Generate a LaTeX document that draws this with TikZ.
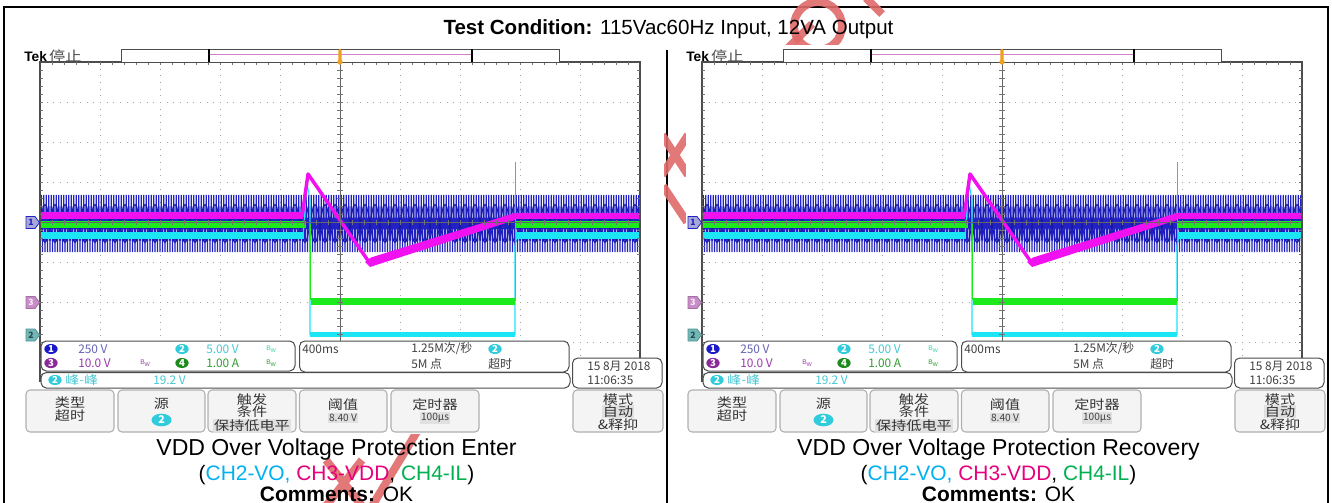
\documentclass[tikz,border=0pt]{standalone}
\usepackage{fontspec}
\usepackage{graphicx}
\setmainfont{Liberation Sans}
\newfontfamily\cjk{Noto Sans CJK SC}
\usetikzlibrary{shapes.geometric}

% trace colours
\definecolor{chone}{HTML}{2222C4}
\definecolor{chonedk}{HTML}{1818A8}
\definecolor{chtwo}{HTML}{1CE6F6}
\definecolor{chthree}{HTML}{F010F0}
\definecolor{chfour}{HTML}{1CEA1C}
% readout colours
\definecolor{txone}{HTML}{6464B4}
\definecolor{txtwo}{HTML}{44C8D4}
\definecolor{txthree}{HTML}{9A3AAA}
\definecolor{txfour}{HTML}{2E9E2E}
\definecolor{dotone}{HTML}{1A1AC8}
\definecolor{dottwo}{HTML}{30CCDC}
\definecolor{dotthree}{HTML}{8A2A9A}
\definecolor{dotfour}{HTML}{1E8A1E}
\definecolor{mkone}{HTML}{A8A8D8}
\definecolor{mkthree}{HTML}{C88CC8}
\definecolor{mktwo}{HTML}{70B8B8}
% screen furniture
\definecolor{gridc}{HTML}{A0A0A0}
\definecolor{btnfill}{HTML}{F4F4F4}
\definecolor{btnedge}{HTML}{B0B0B0}
\definecolor{hilite}{HTML}{E0E0E0}
\definecolor{trigc}{HTML}{F0A020}
\definecolor{recpink}{HTML}{D080C8}
% caption colours
\definecolor{capcyan}{HTML}{00B0F0}
\definecolor{capmag}{HTML}{E6007E}
\definecolor{capgreen}{HTML}{00B050}
\definecolor{wmred}{HTML}{E06A6A}

\newcommand{\wx}[1]{\scalebox{1.18}[1]{#1}}
\newcommand{\bwmark}{{\fontsize{5}{5}\selectfont B\raisebox{-1.3pt}{\fontsize{4.2}{4}\selectfont W}}}

\tikzset{
  frame/.style={line width=1.6pt, black},
  grat/.style={draw=gridc, line width=0.7pt, dash pattern=on 0.7pt off 4.3pt},
  axisline/.style={draw=black!60, line width=0.55pt},
  tickmark/.style={draw=black!55, line width=0.5pt},
  readbox/.style={draw=black!70, line width=0.75pt, fill=white, rounded corners=4pt},
  softkey/.style={draw=btnedge, line width=0.8pt, fill=btnfill, rounded corners=3pt},
  rtxt/.style={font=\cjk\fontsize{8.9}{9}\selectfont, inner sep=0pt, anchor=west, text=black!75},
  ktxt/.style={font=\cjk\fontsize{9.6}{10}\selectfont, inner sep=0pt, text=black!80},
  kval/.style={font=\cjk\fontsize{7.6}{8}\selectfont, inner sep=0.8pt, fill=hilite, text=black!75},
  badge/.style={ellipse, fill=#1, text=white, inner sep=0pt, minimum width=10pt,
    minimum height=7.5pt, font=\cjk\bfseries\fontsize{7.2}{7}\selectfont},
  bigbadge/.style={badge=#1, minimum width=15pt, minimum height=9.5pt,
    font=\cjk\bfseries\fontsize{8}{8}\selectfont},
  bwtxt/.style={inner sep=0pt, anchor=west},
  chmarker/.style={line width=0.6pt},
  mktxt/.style={font=\cjk\bfseries\fontsize{6.5}{7}\selectfont, inner sep=0pt},
  captxt/.style={inner sep=0pt, anchor=base},
  wmstroke/.style={draw=wmred, line width=6pt, opacity=0.9},
}

% one oscilloscope screen, drawn in pixel units from its own origin
\newcommand{\scopescreen}{%
  \fill[white] (24,45) rectangle (664,434);
  % dotted graticule
  \foreach \gx in {100,160,...,580} \draw[grat] (\gx,62) -- (\gx,382);
  \foreach \gy in {102,142,...,342} \draw[grat] (40,\gy) -- (640,\gy);
  % CH1 mains voltage (dense 60 Hz trace)
  \draw[chone, line width=0.75pt] plot[domain=0:480, samples=481]
    ({40+1.25*\x},{223.5+28.5*(1-2*mod(round(\x),2))});
  \draw[chonedk, line width=0.8pt] plot[domain=40:640, samples=481]
    (\x,{223.5+19*sin(18*\x)});
  \draw[chonedk, line width=0.8pt] plot[domain=40:640, samples=481]
    (\x,{223.5-19*sin(18*\x)});
  % CH2 output voltage
  \draw[chtwo, line width=5.5pt] (40,235.5) -- (304,235.5);
  \draw[chtwo, line width=0.8pt] (303,236) -- (307,183) -- (310,200) -- (310,335);
  \draw[chtwo, line width=4pt] (310,334.5) -- (515,334.5);
  \draw[chtwo, line width=0.8pt] (515,335) -- (515,246) -- (517,236);
  \draw[chtwo, line width=5.5pt] (516,235.5) -- (640,235.5);
  % CH4 inductor current
  \draw[chfour, line width=4.8pt] (40,224.5) -- (306,224.5);
  \draw[chfour, line width=0.8pt] (310.5,224) -- (310.5,300);
  \draw[chfour, line width=5.5pt] (311,301.5) -- (515,301.5);
  \draw[chfour, line width=0.9pt] (515.5,301) -- (515.5,162);
  \draw[chfour, line width=4.8pt] (516,224.5) -- (640,224.5);
  % CH3 VDD
  \draw[chthree, line width=4.8pt] (40,215.5) -- (303,215.5);
  \draw[chthree, line width=2.6pt, line join=round] (302,217) -- (308,174) -- (369,262);
  \fill[chthree] (365,262) -- (371,257.5) -- (515,213) -- (515,220) -- (370,267) -- cycle;
  \draw[chthree, line width=4.8pt] (514,216) -- (640,216);
  % centre axes and edge of graticule
  \draw[axisline] (340,62) -- (340,382);
  \draw[axisline] (40,222.5) -- (640,222.5);
  \foreach \ty in {70,78,...,374} \draw[tickmark] (337,\ty) -- (343,\ty);
  \foreach \tx in {52,64,...,628} \draw[tickmark] (\tx,220) -- (\tx,225);
  \draw[draw=black!70, line width=0.8pt] (40,382) -- (40,62) -- (640,62) -- (640,382);
  \foreach \ty in {70,78,...,374} \draw[tickmark] (40,\ty) -- (43,\ty) (637,\ty) -- (640,\ty);
  \foreach \tx in {52,64,...,628} \draw[tickmark] (\tx,62) -- (\tx,65);
  % record bar with trigger position
  \draw[draw=black!70, fill=white, line width=0.6pt] (121,49) rectangle (559.5,62);
  \draw[recpink, line width=0.8pt] (209,54.5) -- (472,54.5);
  \draw[black, line width=1.2pt] (209,49) -- (209,62) (472,49) -- (472,62);
  \fill[trigc, rounded corners=1pt] (338.3,49) rectangle (341.7,62);
  \fill[trigc] (340,62) circle[radius=2pt];
  % status label
  \node[anchor=west, inner sep=0pt] (tek) at (24,56)
    {\fontsize{10.3}{11}\selectfont\textbf{Tek}\,{\cjk\color{black!70}\wx{停止}}};
  % channel markers
  \filldraw[fill=mkone, draw=chone, chmarker] (26,216.5) -- (35,216.5) -- (39.5,222.5) -- (35,228.5) -- (26,228.5) -- cycle;
  \node[mktxt, text=chone] (m1) at (31,222.5) {1};
  \filldraw[fill=mkthree, draw=mkthree!80!black, chmarker] (26,296.5) -- (35,296.5) -- (39.5,302.5) -- (35,308.5) -- (26,308.5) -- cycle;
  \node[mktxt, text=white!85!mkthree] (m3) at (31,302.5) {3};
  \filldraw[fill=mktwo, draw=mktwo!80!black, chmarker] (26,329) -- (35,329) -- (39.5,335) -- (35,341) -- (26,341) -- cycle;
  \node[mktxt, text=black!60!mktwo] (m2) at (31,335) {2};
  % readout boxes
  \draw[readbox] (41,341) rectangle (295,371);
  \draw[readbox] (299.5,341) rectangle (569,372);
  \draw[readbox] (41,372.5) rectangle (570,388);
  \draw[readbox] (572.5,358) rectangle (662,388);
  % vertical settings
  \node[badge=dotone] (b1) at (51,349) {1};
  \node[rtxt, text=txone] (v1) at (78,349) {250 V};
  \node[badge=dottwo] (b2) at (182,349) {2};
  \node[rtxt, text=txtwo] (v2) at (206,349) {5.00 V};
  \node[bwtxt, text=txtwo!80!green] (w2) at (266,349) {\bwmark};
  \node[badge=dotthree] (b3) at (51,363) {3};
  \node[rtxt, text=txthree] (v3) at (78,363) {10.0 V};
  \node[bwtxt, text=txthree] (w3) at (140,363) {\bwmark};
  \node[badge=dotfour] (b4) at (182,363) {4};
  \node[rtxt, text=txfour] (v4) at (206,363) {1.00 A};
  \node[bwtxt, text=txfour] (w4) at (266,363) {\bwmark};
  % horizontal settings
  \node[rtxt] (tb) at (302,349) {400ms};
  \node[rtxt] (sr) at (411,349) {1.25M次/秒};
  \node[badge=dottwo] (b5) at (495,349) {2};
  \node[rtxt] (rl) at (411,364) {5M 点};
  \node[rtxt] (to) at (488,364) {超时};
  % measurement
  \node[badge=dottwo] (b6) at (55,380) {2};
  \node[rtxt, text=txtwo] (pk) at (65,380) {\wx{峰-峰}};
  \node[rtxt, text=txtwo] (pv) at (153,380) {19.2 V};
  % date and time
  \node[rtxt] (dt) at (587,366) {15 8月 2018};
  \node[rtxt] (tt) at (587,380) {11:06:35};
  % soft keys
  \draw[softkey] (26,390) rectangle (114,432);
  \draw[softkey] (118,390) rectangle (205,432);
  \draw[softkey] (208,390) rectangle (296,432);
  \draw[softkey] (299.5,390) rectangle (387,432);
  \draw[softkey] (391,390) rectangle (479,432);
  \draw[softkey] (573,390) rectangle (663,432);
  \node[ktxt] (k1a) at (70,403) {\wx{类型}};
  \node[ktxt] (k1b) at (70,416) {\wx{超时}};
  \node[ktxt] (k2a) at (161.5,404) {\wx{源}};
  \node[bigbadge=dottwo] (k2b) at (161.5,420) {2};
  \node[ktxt] (k3a) at (252,399.5) {\wx{触发}};
  \node[ktxt] (k3b) at (252,411.5) {\wx{条件}};
  \node[ktxt, fill=hilite, inner sep=0.6pt] (k3c) at (252,426) {\wx{保持低电平}};
  \node[ktxt] (k4a) at (343,405) {\wx{阈值}};
  \node[kval] (k4b) at (343,418) {8.40 V};
  \node[ktxt] (k5a) at (435,405) {\wx{定时器}};
  \node[kval] (k5b) at (435,418) {100μs};
  \node[ktxt] (k6a) at (618,399.5) {\wx{模式}};
  \node[ktxt, fill=hilite, inner sep=0.6pt] (k6b) at (618,411.5) {\wx{自动}};
  \node[ktxt] (k6c) at (618,424.5) {\wx{\&释抑}};
}

\begin{document}
\begin{tikzpicture}[x=0.75pt, y=-0.75pt]
  \useasboundingbox (0,0) rectangle (1332,503);
  \fill[white] (0,0) rectangle (1332,503);

  % page frame and panel divider
  \draw[frame] (4,503) -- (4,7) -- (1328,7) -- (1328,503);
  \draw[frame] (667,50) -- (667,503);

  % diagonal watermark strokes (only the parts left uncovered by the screens)
  \begin{scope}
    \clip (0,0) rectangle (1332,503);
    \draw[wmstroke] (326,460) -- (362,506) (362,460) -- (326,506);
    \draw[wmstroke] (372,506) -- (418,430);
    \draw[wmstroke] (662,135) -- (688,175) (688,135) -- (662,175);
    \draw[wmstroke] (663,186) -- (687,222);
    \draw[wmstroke] (818,26) circle[radius=18pt];
    \draw[wmstroke] (786,50) -- (812,24);
    \draw[wmstroke] (866,-2) -- (882,14);
  \end{scope}

  % two oscilloscope screens
  \begin{scope}[name prefix=L-]
    \scopescreen
  \end{scope}
  \begin{scope}[shift={(662,0)}, name prefix=R-]
    \scopescreen
  \end{scope}

  \node[captxt] (title) at (668.5,35)
    {\fontsize{15.4}{18}\selectfont\textbf{Test Condition:} 115Vac60Hz Input, 12VA Output};

  % captions
  \node[captxt] (capL) at (336.5,455)
    {\fontsize{17.3}{20}\selectfont VDD Over Voltage Protection Enter};
  \node[captxt] (chL) at (336.5,480)
    {\fontsize{15.7}{18}\selectfont (\textcolor{capcyan}{CH2-VO,} \textcolor{capmag}{CH3-VDD}, \textcolor{capgreen}{CH4-IL})};
  \node[captxt] (cmL) at (336.5,501)
    {\fontsize{15.7}{18}\selectfont\textbf{Comments:} OK};

  \node[captxt] (capR) at (998.5,455)
    {\fontsize{17.3}{20}\selectfont VDD Over Voltage Protection Recovery};
  \node[captxt] (chR) at (998.5,480)
    {\fontsize{15.7}{18}\selectfont (\textcolor{capcyan}{CH2-VO,} \textcolor{capmag}{CH3-VDD}, \textcolor{capgreen}{CH4-IL})};
  \node[captxt] (cmR) at (998.5,501)
    {\fontsize{15.7}{18}\selectfont\textbf{Comments:} OK};
\end{tikzpicture}
\end{document}
